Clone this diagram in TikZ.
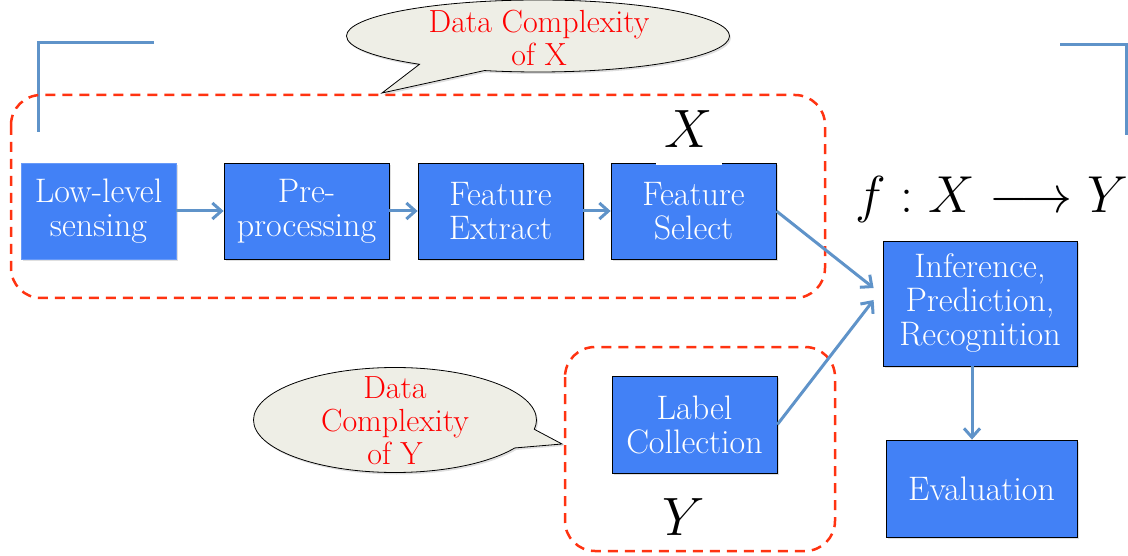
\RequirePackage{fix-cm}
\documentclass[tikz,border=0pt]{standalone}
\usepackage{amsmath}
\usepackage{fontspec}
\usetikzlibrary{arrows.meta, shapes.callouts, shadows}

\definecolor{boxblue}{RGB}{66,129,246}
\definecolor{linkblue}{RGB}{95,147,201}
\definecolor{dashred}{RGB}{255,51,17}
\definecolor{bubblegray}{RGB}{238,238,230}

\begin{document}
\begin{tikzpicture}[x=1pt, y=-1pt,
    stage/.style={draw=black, line width=0.8pt, fill=boxblue, text=white, align=center,
        inner sep=0pt, minimum height=96pt, font=\fontsize{34}{34}\selectfont,
        drop shadow={opacity=0.25, shadow xshift=1.5pt, shadow yshift=-2pt}},
    link/.style={draw=linkblue, line width=3pt, -{Straight Barb[length=9pt, width=16pt]}},
    group/.style={draw=dashred, line width=2.5pt, dash pattern=on 10pt off 7pt, rounded corners=30pt},
    bubble/.style={ellipse callout, draw=black, line width=0.8pt, fill=bubblegray, inner sep=0pt,
        callout pointer arc=22, drop shadow={opacity=0.25, shadow xshift=1.5pt, shadow yshift=-2pt}},
    note/.style={text=red, align=center, inner sep=0pt, font=\fontsize{32}{33}\selectfont},
    big/.style={font=\fontsize{54}{60}\selectfont}]
    \useasboundingbox (0,0) rectangle (1128,556);

    % Corner brackets
    \draw[linkblue, line width=3pt] (38,132) -- (38,43) -- (154,43);
    \draw[linkblue, line width=3pt] (1060,45) -- (1126,45) -- (1126,135);

    % Dashed groups
    \draw[group] (11,95) rectangle (825,298);
    \draw[group] (565,347) rectangle (835,551);

    % Top row
    \node[stage, draw=boxblue!80, minimum width=155pt] (sense) at (98.5,211) {Low-level\\sensing};
    \node[stage, minimum width=165pt] (prep) at (306.5,211) {Pre-\\processing};
    \node[stage, minimum width=165pt] (extract) at (500.5,211) {Feature\\Extract};
    \node[stage, minimum width=165pt] (select) at (693.5,211) {Feature\\Select};
    \node[big, fill=white, anchor=south, inner sep=0pt, minimum width=66pt, text depth=17pt] (xlab) at (689,165) {$X$};

    % Right column
    \node[anchor=base, font=\fontsize{52}{60}\selectfont] (map) at (992,213) {$f : X \longrightarrow Y$};
    \node[stage, minimum width=194pt, minimum height=125pt] (infer) at (980,303.5) {Inference,\\Prediction,\\Recognition};
    \node[stage, minimum width=191pt, minimum height=97pt] (eval) at (981.5,488.5) {Evaluation};

    % Labels
    \node[stage, minimum width=165pt, minimum height=97pt] (label) at (694.5,424.5) {Label\\Collection};
    \node[big, anchor=base] (ylab) at (684,535) {$Y$};

    % Arrows
    \draw[link] (sense.east) -- (prep.west);
    \draw[link] (prep.east) -- (extract.west);
    \draw[link] (extract.east) -- (select.west);
    \draw[link] (select.east) -- ([xshift=-9pt, yshift=15.5pt]infer.west);
    \draw[link] (label.east) -- ([xshift=-9pt, yshift=3.5pt]infer.west);
    \draw[link] ([xshift=-8pt]infer.south) -- ([xshift=-8pt]infer.south |- eval.north);

    % Callouts
    \node[bubble, minimum width=383pt, minimum height=72pt, callout absolute pointer={(382,93)}] (cplxX) at (538,36) {};
    \node[note] (cplxXtext) at (539,37.5) {Data Complexity\\of X};
    \node[bubble, minimum width=283pt, minimum height=105pt, callout absolute pointer={(562,444)}] (cplxY) at (395,420) {};
    \node[note] (cplxYtext) at (395,421) {Data\\Complexity\\of Y};
\end{tikzpicture}
\end{document}
